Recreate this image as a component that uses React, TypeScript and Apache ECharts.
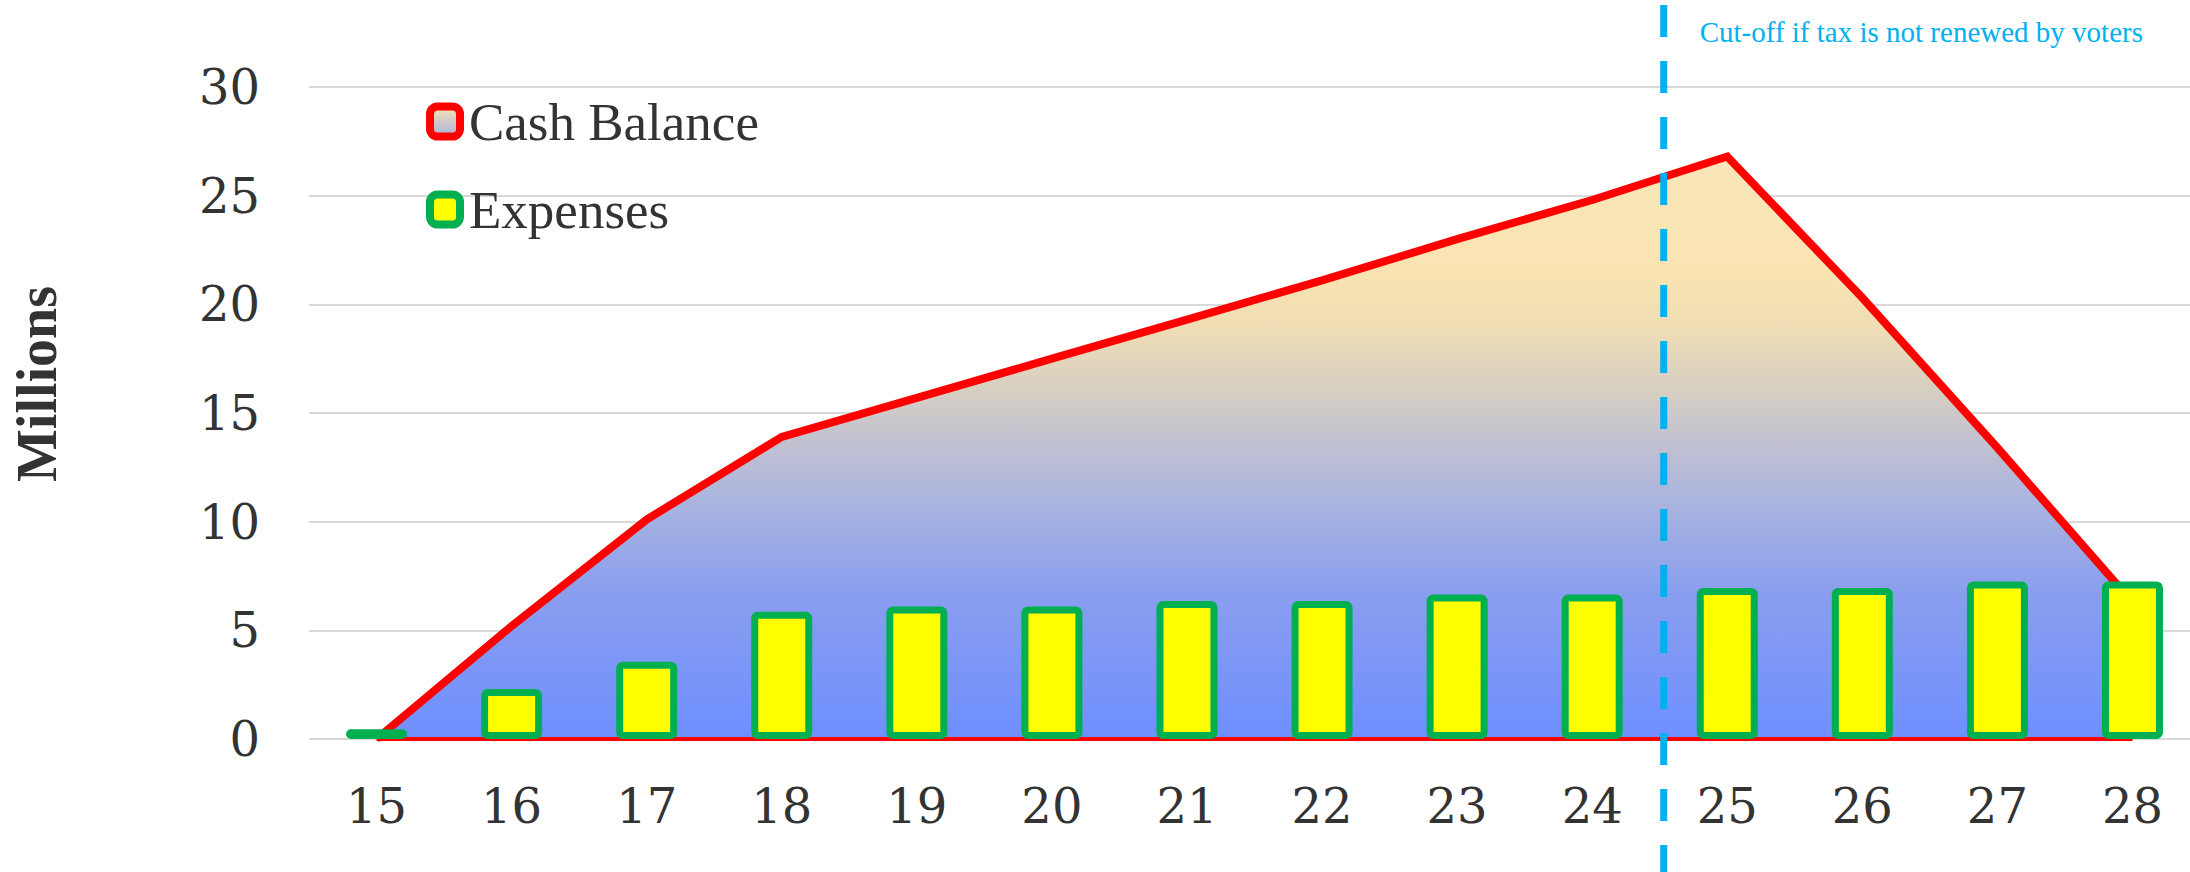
import React, { useEffect, useRef } from "react";
import * as echarts from "echarts";

const years = ["15", "16", "17", "18", "19", "20", "21", "22", "23", "24", "25", "26", "27", "28"];
const cashBalance = [0, 5.2, 10.1, 13.9, 15.7, 17.5, 19.3, 21.1, 23.0, 24.8, 26.8, 20.3, 13.4, 6.3];
const expenses = [0.45, 2.3, 3.55, 5.85, 6.1, 6.1, 6.35, 6.35, 6.65, 6.65, 6.95, 6.95, 7.25, 7.25];
const baseline = [0, 0, 0, 0, 0, 0, 0, 0, 0, 0, 0, 0, 0, 0];
const yMin = 0;
const yMax = 30;
const yStep = 5;
const yAxisTitle = "Millions";
const cutoffLastYear = "24";
const cutoffFirstYear = "25";
const cutoffLabel = "Cut-off if tax is not renewed by voters";

const SERIF = '"Liberation Serif", "Times New Roman", serif';
const DIGITS = '"DejaVu Serif", serif';

export default function App() {
  const ref = useRef<HTMLDivElement>(null);

  useEffect(() => {
    if (!ref.current) return;
    const chart = echarts.init(ref.current, undefined, { renderer: "svg" });

    const areaGradient = new echarts.graphic.LinearGradient(0, 0, 0, 1, [
      { offset: 0, color: "#FBE6BA" },
      { offset: 0.2, color: "#F9E3B1" },
      { offset: 0.3, color: "#EEDCB5" },
      { offset: 0.4, color: "#D6CFC2" },
      { offset: 0.5, color: "#BFC0D2" },
      { offset: 0.6, color: "#A8B3DF" },
      { offset: 0.75, color: "#8A9EEF" },
      { offset: 1, color: "#6E8FFF" },
    ]);
    const legendGradient = new echarts.graphic.LinearGradient(0, 0, 0, 1, [
      { offset: 0, color: "#F9E3B1" },
      { offset: 1, color: "#A8B3DF" },
    ]);

    chart.setOption({
      animation: false,
      backgroundColor: "#FFFFFF",
      grid: { left: 309, top: 87, width: 1891, height: 652, containLabel: false },
      legend: {
        orient: "vertical",
        left: 426,
        top: 95,
        padding: 0,
        itemWidth: 30,
        itemHeight: 30,
        itemGap: 35,
        icon: "roundRect",
        selectedMode: false,
        textStyle: {
          fontFamily: SERIF,
          fontSize: 53,
          color: "#333333",
          lineHeight: 50,
          padding: [0, 0, 0, 4],
        },
        data: [
          {
            name: "Cash Balance",
            itemStyle: { color: legendGradient, borderColor: "#FF0000", borderWidth: 8 },
          },
          {
            name: "Expenses",
            itemStyle: { color: "#FFFF00", borderColor: "#00B050", borderWidth: 8 },
          },
        ],
      },
      xAxis: {
        type: "category",
        data: years,
        boundaryGap: true,
        axisLine: { show: false },
        axisTick: { show: false },
        axisLabel: { fontFamily: DIGITS, fontSize: 48, color: "#333333", margin: 43 },
        splitLine: { show: false },
      },
      yAxis: {
        type: "value",
        min: yMin,
        max: yMax,
        interval: yStep,
        axisLine: { show: false },
        axisTick: { show: false },
        axisLabel: { fontFamily: DIGITS, fontSize: 48, color: "#333333", margin: 49 },
        splitLine: { lineStyle: { color: "#D9D9D9", width: 2 } },
      },
      series: [
        {
          name: "Cash Balance",
          type: "line",
          data: cashBalance,
          symbol: "none",
          lineStyle: { color: "#FF0000", width: 8, join: "miter" },
          itemStyle: { color: "#FF0000" },
          areaStyle: { color: areaGradient, opacity: 1 },
          z: 2,
        },
        {
          name: "base",
          type: "line",
          data: baseline,
          symbol: "none",
          silent: true,
          lineStyle: { color: "#FF0000", width: 4 },
          z: 3,
        },
        {
          name: "Expenses",
          type: "bar",
          data: expenses,
          barWidth: 61,
          itemStyle: {
            color: "#FFFF00",
            borderColor: "#00B050",
            borderWidth: 7,
            borderRadius: 3,
          },
          z: 4,
        },
      ],
    });

    const xa = chart.convertToPixel({ xAxisIndex: 0 }, cutoffLastYear) as number;
    const xb = chart.convertToPixel({ xAxisIndex: 0 }, cutoffFirstYear) as number;
    const xc = (xa + xb) / 2 + 4;
    const yTop = chart.convertToPixel({ yAxisIndex: 0 }, yMax) as number;
    const yBottom = chart.convertToPixel({ yAxisIndex: 0 }, yMin) as number;

    chart.setOption({
      graphic: [
        {
          type: "text",
          x: 37,
          y: (yTop + yBottom) / 2 - 29,
          rotation: Math.PI / 2,
          style: {
            text: yAxisTitle,
            font: `bold 56px ${SERIF}`,
            fill: "#333333",
            align: "center",
            verticalAlign: "middle",
          },
        },
        {
          type: "line",
          z: 100,
          shape: { x1: xc, y1: 5, x2: xc, y2: 872 },
          style: { stroke: "#00B0F0", lineWidth: 7, lineDash: [32, 24] },
        },
        {
          type: "text",
          z: 100,
          x: xc + 36,
          y: 32,
          style: {
            text: cutoffLabel,
            font: `29px ${SERIF}`,
            fill: "#00B0F0",
            verticalAlign: "middle",
            align: "left",
          },
        },
      ],
    });

    return () => chart.dispose();
  }, []);

  return (
    <div
      ref={ref}
      style={{ position: "fixed", left: 0, top: 0, width: 2210, height: 872, background: "#FFFFFF" }}
    />
  );
}
